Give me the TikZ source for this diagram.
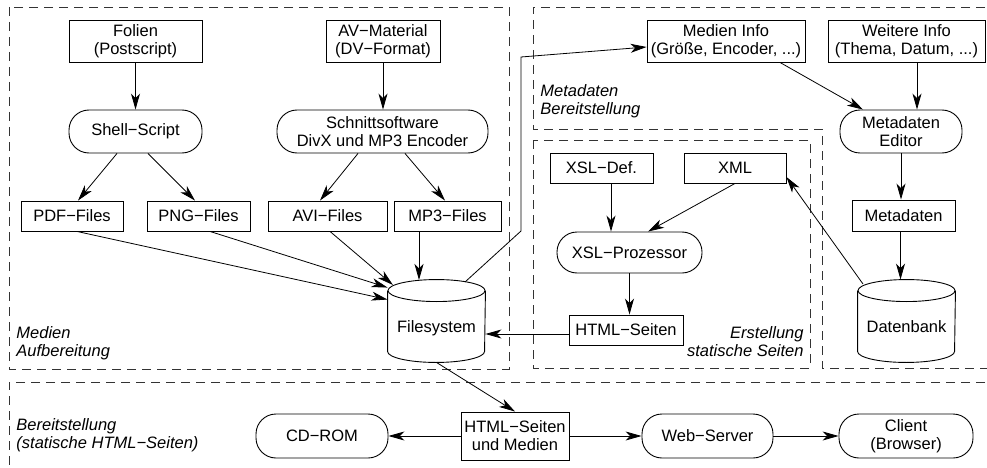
\documentclass[tikz,border=0pt]{standalone}
\usepackage{fontspec}
\setmainfont{Liberation Sans}
\usetikzlibrary{arrows.meta,calc}
\begin{document}
\begin{tikzpicture}[x=1pt,y=-1pt,
  font=\fontsize{16.5}{18}\selectfont,
  line width=0.9pt,
  rect/.style={draw, align=center, inner sep=0pt},
  rbox/.style={draw, align=center, inner sep=0pt, rounded corners=20pt},
  hold/.style={draw=none, inner sep=0pt, minimum width=97pt, minimum height=82pt},
  arr/.style={-{Stealth[length=16pt,width=9pt,inset=4.5pt]}, line width=0.8pt},
  region/.style={draw=black!80, line width=0.8pt, dash pattern=on 9pt off 6pt},
  lbl/.style={font=\fontsize{16.5}{18}\selectfont\itshape, inner sep=0pt}
]
\useasboundingbox (0,0) rectangle (987,468);
\begin{scope}
\clip (0,0) rectangle (987,468);
% dashed regions
\draw[region] (9,7) rectangle (509,369);
\draw[region] (1000,7) -- (533,7) -- (533,129) -- (822,129) -- (822,368) -- (1000,368);
\draw[region] (533,140) rectangle (810,368);
\draw[region] (1000,382) -- (9,382) -- (9,480);
\end{scope}

% nodes: Medien Aufbereitung
\node[rect, minimum width=133pt, minimum height=42pt] (folien) at (135.5,41) {Folien\\(Postscript)};
\node[rbox, minimum width=133pt, minimum height=43pt] (shell) at (135.5,131.5) {Shell−Script};
\node[rect, minimum width=102pt, minimum height=30pt] (pdf) at (72,216) {PDF−Files};
\node[rect, minimum width=103pt, minimum height=30pt] (png) at (198.5,216) {PNG−Files};
\node[rect, minimum width=114pt, minimum height=42pt] (av) at (383,41) {AV−Material\\(DV−Format)};
\node[rbox, minimum width=211pt, minimum height=43pt] (schnitt) at (382.5,131.5) {Schnittsoftware\\DivX und MP3 Encoder};
\node[rect, minimum width=119pt, minimum height=30pt] (avi) at (327.5,216) {AVI−Files};
\node[rect, minimum width=107pt, minimum height=30pt] (mp3) at (447.5,216) {MP3−Files};

% Filesystem cylinder
\node[hold] (fs) at (436.5,321) {};
\draw ([yshift=-11pt]fs.north west) -- ([yshift=11pt]fs.south west)
  arc[start angle=180, end angle=360, x radius=48.5pt, y radius=11pt]
  -- ([yshift=-11pt]fs.north east);
\draw ([yshift=-11pt]fs.north) ellipse [x radius=48.5pt, y radius=11pt];
\node[inner sep=0pt] (fslabel) at (436.5,328) {Filesystem};

% Metadaten
\node[rect, minimum width=158pt, minimum height=42pt] (medien) at (726,41) {Medien Info\\(Größe, Encoder, ...)};
\node[rect, minimum width=157pt, minimum height=42pt] (weitere) at (906.5,41) {Weitere Info\\(Thema, Datum, ...)};
\node[rbox, minimum width=122pt, minimum height=43pt] (editor) at (901,131.5) {Metadaten\\Editor};
\node[rect, minimum width=103pt, minimum height=31pt] (meta) at (903.5,215.5) {Metadaten};
\node[hold] (db) at (906.5,321) {};
\draw ([yshift=-11pt]db.north west) -- ([yshift=11pt]db.south west)
  arc[start angle=180, end angle=360, x radius=48.5pt, y radius=11pt]
  -- ([yshift=-11pt]db.north east);
\draw ([yshift=-11pt]db.north) ellipse [x radius=48.5pt, y radius=11pt];
\node[inner sep=0pt] (dblabel) at (906.5,327) {Datenbank};

% Erstellung
\node[rect, minimum width=103pt, minimum height=30pt] (xsldef) at (601.5,168) {XSL−Def.};
\node[rect, minimum width=102pt, minimum height=30pt] (xml) at (735,168) {XML};
\node[rbox, minimum width=145pt, minimum height=41pt] (xslp) at (629.5,252.5) {XSL−Prozessor};
\node[rect, minimum width=114pt, minimum height=30pt] (html) at (626,330) {HTML−Seiten};

% Bereitstellung
\node[rect, minimum width=108pt, minimum height=48pt] (hm) at (515,436) {HTML−Seiten\\und Medien};
\node[rbox, minimum width=132pt, minimum height=44pt] (cd) at (322,436) {CD−ROM};
\node[rbox, minimum width=131pt, minimum height=44pt] (web) at (707.5,436) {Web−Server};
\node[rbox, minimum width=134pt, minimum height=44pt] (client) at (906,436) {Client\\(Browser)};

% region labels
\node[lbl, anchor=west, align=left] (l1) at (16,343) {Medien\\Aufbereitung};
\node[lbl, anchor=west, align=left] (l2) at (540,101) {Metadaten\\Bereitstellung};
\node[lbl, anchor=east, align=right] (l3) at (804,342) {Erstellung\\statische Seiten};
\node[lbl, anchor=west, align=left] (l4) at (16,435) {Bereitstellung\\(statische HTML−Seiten)};

% connectors
\draw[arr] (folien.south) -- (shell.north);
\draw[arr] ([xshift=-18.5pt]shell.south) -- ([xshift=6pt]pdf.north);
\draw[arr] ([xshift=12.5pt]shell.south) -- ([xshift=-3.5pt]png.north);
\draw[arr] (av.south) -- (av.south |- schnitt.north);
\draw[arr] ([xshift=-24.5pt]schnitt.south) -- ([xshift=-7.5pt]avi.north);
\draw[arr] ([xshift=22.5pt]schnitt.south) -- ([xshift=-2.5pt]mp3.north);
\draw[arr] ([xshift=5pt]pdf.south) -- ([yshift=-20pt]fs.north west);
\draw[arr] ([xshift=11.5pt]png.south) -- ([yshift=-8pt]fs.north west);
\coordinate (avitip) at (393,285);
\draw[arr] ([xshift=2.5pt]avi.south) -- (avitip);
\coordinate (mp3src) at ([xshift=-28.5pt]mp3.south);
\coordinate (mp3tip) at (419,280);
\draw[arr] (mp3src) -- (mp3tip);
\coordinate (fsout) at (465,282);
\coordinate (c1) at (521,231);
\coordinate (c2) at (521,57);
\draw[arr] (fsout) -- (c1) -- (c2) -- ([yshift=-6pt]medien.west);
\coordinate (h1) at ([yshift=-4pt]html.west);
\draw[arr] (h1) -- (h1 -| fs.east);
\draw[arr] ([xshift=9.5pt]xsldef.south) -- ([xshift=9.5pt]xsldef.south |- xslp.north);
\draw[arr] (xml.south) -- ([xshift=18.5pt]xslp.north);
\draw[arr] (xslp.south) -- (xslp.south |- html.north);
\coordinate (dbout) at (863,284);
\draw[arr] (dbout) -- ([yshift=-9pt]xml.east);
\draw[arr] ([xshift=54pt]medien.south) -- ([xshift=-38pt]editor.north);
\draw[arr] ([xshift=10.5pt]weitere.south) -- ([xshift=10.5pt]weitere.south |- editor.north);
\draw[arr] (editor.south) -- (editor.south |- meta.north);
\coordinate (metaout) at ([xshift=-3pt]meta.south);
\draw[arr] (metaout) -- (metaout |- db.north);
\draw[arr] (fs.south) -- (hm.north);
\draw[arr] (hm.west) -- (cd.east);
\draw[arr] (hm.east) -- (web.west);
\draw[arr] (web.east) -- (client.west);
\end{tikzpicture}
\end{document}
